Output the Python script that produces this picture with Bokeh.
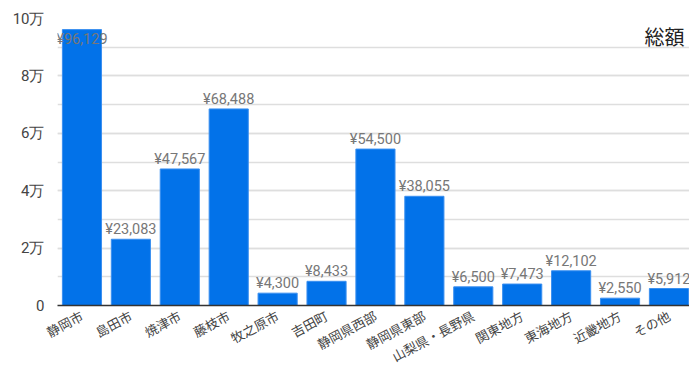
import math
from bokeh.plotting import figure
from bokeh.models import ColumnDataSource, Range1d, FixedTicker, Label
from bokeh.core.properties import value
from bokeh.embed import file_html
from bokeh.resources import INLINE

categories = ["静岡市", "島田市", "焼津市", "藤枝市", "牧之原市", "吉田町", "静岡県西部",
              "静岡県東部", "山梨県・長野県", "関東地方", "東海地方", "近畿地方", "その他"]
amounts = [96129, 23083, 47567, 68488, 4300, 8433, 54500, 38055, 6500, 7473, 12102, 2550, 5912]
y_ticks = [0, 20000, 40000, 60000, 80000, 100000]
y_tick_labels = ["0", "2万", "4万", "6万", "8万", "10万"]
series_name = "総額"

xs = list(range(len(categories)))
labels = ["¥{:,}".format(v) for v in amounts]
inside = [v > 90000 for v in amounts]

src_out = ColumnDataSource(dict(x=[x for x, i in zip(xs, inside) if not i],
                                y=[v for v, i in zip(amounts, inside) if not i],
                                t=[t for t, i in zip(labels, inside) if not i]))
src_in = ColumnDataSource(dict(x=[x for x, i in zip(xs, inside) if i],
                               y=[v for v, i in zip(amounts, inside) if i],
                               t=[t for t, i in zip(labels, inside) if i]))

p = figure(width=689, height=376, output_backend="svg", toolbar_location=None,
           x_range=Range1d(-0.5, 12.42), y_range=Range1d(0, 100000),
           min_border_left=57, min_border_right=0, min_border_top=18, min_border_bottom=0)
p.outline_line_color = None
p.background_fill_color = "white"

p.vbar(x=xs, top=amounts, width=0.8, color="#0272e9", line_color="#3a8ff0", line_width=1)

p.text(x="x", y="y", text="t", source=src_out, text_align="center", text_baseline="bottom",
       y_offset=-1, text_font=value("Roboto"), text_font_size="14.5px", text_color="#777777")
p.text(x="x", y="y", text="t", source=src_in, text_align="center", text_baseline="top",
       y_offset=1, text_font=value("Roboto"), text_font_size="14.5px", text_color="#777777")

p.add_layout(Label(x=12.32, y=93700, text=series_name, text_align="right", text_baseline="middle",
                   text_font="Noto Sans CJK JP", text_font_size="20px", text_color="#222222"))

# y axis
p.yaxis.ticker = FixedTicker(ticks=y_ticks, minor_ticks=list(range(0, 100001, 10000)))
p.yaxis.major_label_overrides = {t: l for t, l in zip(y_ticks, y_tick_labels)}
p.yaxis.axis_line_color = None
p.yaxis.major_tick_line_color = None
p.yaxis.minor_tick_line_color = None
p.yaxis.major_label_standoff = 7
p.yaxis.major_label_text_font = "Roboto"
p.yaxis.major_label_text_font_size = "15px"
p.yaxis.major_label_text_color = "#444444"

p.ygrid.grid_line_color = "#dedede"
p.ygrid.grid_line_width = 1.5
p.ygrid.minor_grid_line_color = "#dedede"
p.ygrid.minor_grid_line_width = 1.5
p.xgrid.grid_line_color = None

# x axis
p.xaxis.ticker = FixedTicker(ticks=xs)
p.xaxis.major_label_overrides = {x: c for x, c in zip(xs, categories)}
p.xaxis.major_label_orientation = math.radians(28)
p.xaxis.axis_line_color = "#333333"
p.xaxis.axis_line_width = 1.5
p.xaxis.major_tick_line_color = None
p.xaxis.minor_tick_line_color = None
p.xaxis.major_tick_out = 0
p.xaxis.major_tick_in = 0
p.xaxis.major_label_standoff = 9
p.xaxis.major_label_text_font = "Noto Sans CJK JP"
p.xaxis.major_label_text_font_size = "13px"
p.xaxis.major_label_text_color = "#444444"

open("out.html", "w").write(file_html(p, INLINE))
